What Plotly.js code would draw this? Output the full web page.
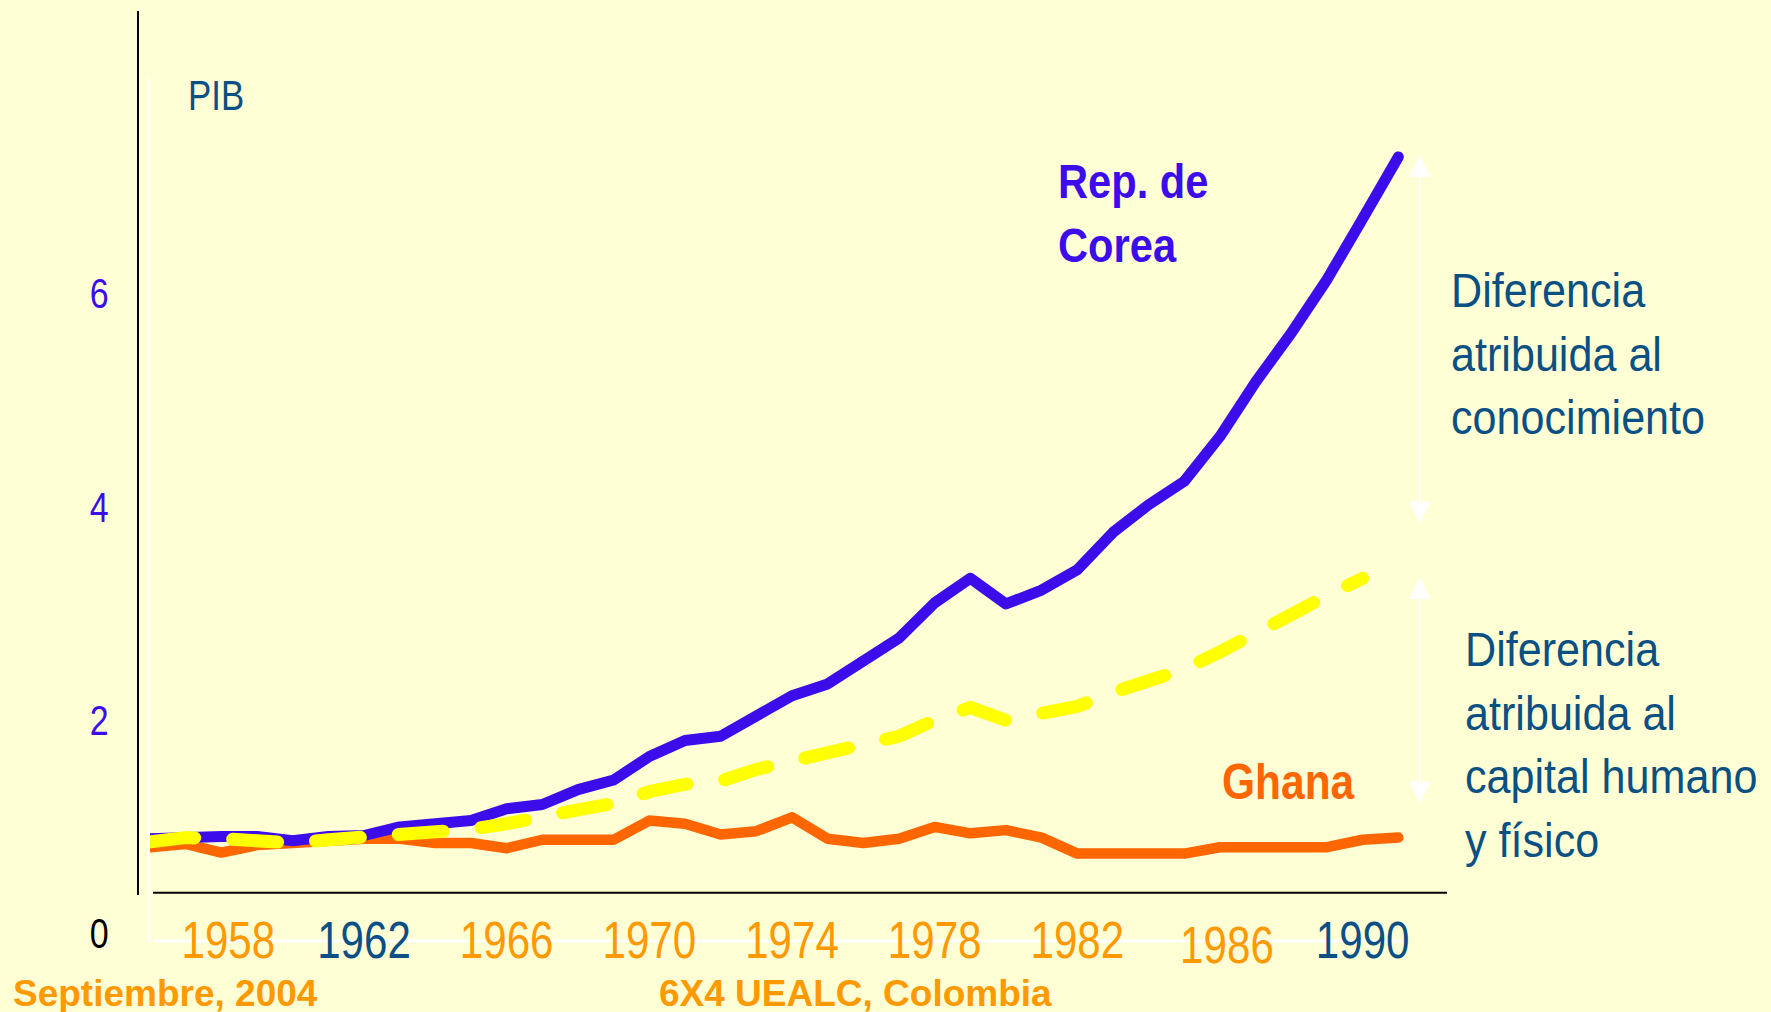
<!DOCTYPE html>
<html>
<head>
<meta charset="utf-8">
<script src="https://cdn.plot.ly/plotly-3.0.1.min.js"></script>
<style>
  html, body { margin: 0; padding: 0; background: #FFFFD5; }
  #chart { width: 1771px; height: 1012px; }
  .js-line { stroke-linecap: round !important; stroke-linejoin: round !important; }
</style>
</head>
<body>
<div id="chart"></div>
<script>
// ---- data ----
const years = [1956,1957,1958,1959,1960,1961,1962,1963,1964,1965,1966,1967,1968,1969,1970,1971,1972,1973,1974,1975,1976,1977,1978,1979,1980,1981,1982,1983,1984,1985,1986,1987,1988,1989,1990,1991];
const korea = [0.89,0.91,0.91,0.91,0.87,0.91,0.92,1.00,1.04,1.06,1.17,1.21,1.35,1.44,1.66,1.81,1.85,2.05,2.23,2.34,2.54,2.77,3.10,3.33,3.09,3.22,3.41,3.76,4.02,4.24,4.66,5.17,5.63,6.13,6.70,7.28];
const ghana = [0.81,0.84,0.76,0.83,0.85,0.88,0.89,0.89,0.85,0.85,0.80,0.88,0.88,0.88,1.06,1.03,0.93,0.96,1.09,0.89,0.85,0.89,1.00,0.94,0.97,0.90,0.75,0.75,0.75,0.75,0.81,0.81,0.81,0.81,0.88,0.90];
const capital = [0.86,0.90,0.89,0.86,0.85,0.88,0.90,0.93,0.94,0.98,1.03,1.08,1.16,1.22,1.33,1.40,1.43,1.54,1.62,1.69,1.75,1.85,2.00,2.12,2.00,2.05,2.13,2.26,2.38,2.48,2.64,2.80,2.99,3.17,3.33,null];

const yTickVals = [0, 2, 4, 6];
const yTickText = ['<span style="color:#000000">0</span>', '2', '4', '6'];
const xTickVals = [1958, 1962, 1966, 1970, 1974, 1978, 1982, 1986, 1990];
const xTickText = ['1958', '<span style="color:#0B4F85">1962</span>', '1966', '1970', '1974', '1978', '1982', '1986', '<span style="color:#0B4F85">1990</span>'];

const NARROW = 'Liberation Sans Narrow, Arial Narrow, Liberation Sans, Arial, sans-serif';
const WIDE = 'Liberation Sans, Arial, sans-serif';
const BLUE = '#3D0CEB';
const ORANGE = '#FF6600';
const TEAL = '#0A5082';
const GOLD = '#FF9900';

const traces = [
  { x: years, y: ghana, type: 'scatter', mode: 'lines', line: { color: ORANGE, width: 10.5 }, hoverinfo: 'skip' },
  { x: years, y: korea, type: 'scatter', mode: 'lines', line: { color: BLUE, width: 11 }, hoverinfo: 'skip' },
  { x: years, y: capital, type: 'scatter', mode: 'lines', line: { color: '#FFFF00', width: 13, dash: '45px,38px' }, hoverinfo: 'skip' }
];

const layout = {
  width: 1771, height: 1012,
  paper_bgcolor: '#FFFFD5', plot_bgcolor: '#FFFFD5',
  margin: { l: 150, r: 362, t: 79, b: 71, pad: 0 },
  showlegend: false,
  hovermode: false,
  xaxis: {
    range: [1956, 1991.3], showgrid: false, zeroline: false, showline: false,
    anchor: 'free', position: 0.0412,
    ticks: '', tickmode: 'array', tickvals: xTickVals, ticktext: xTickText,
    tickfont: { family: NARROW, size: 52, color: GOLD }, fixedrange: true
  },
  yaxis: {
    range: [-0.069, 8.01], showgrid: false, zeroline: false,
    showline: true, linecolor: '#FFFFFF', linewidth: 3, layer: 'below traces',
    ticks: '', tickmode: 'array', tickvals: yTickVals, ticktext: yTickText,
    tickfont: { family: NARROW, size: 42, color: BLUE },
    ticklabelstandoff: 30, fixedrange: true
  },
  shapes: [
    { type: 'line', xref: 'paper', yref: 'paper', layer: 'below', x0: 0.0024, x1: 0.993, y0: 0, y1: 0, line: { color: '#FFFFFF', width: 3 } },
    { type: 'line', xref: 'paper', yref: 'paper', x0: -0.00953, x1: -0.00953, y0: 0.0534, y1: 1.0789, line: { color: '#000000', width: 2 } },
    { type: 'line', xref: 'paper', yref: 'paper', x0: 0.0024, x1: 1.0302, y0: 0.0560, y1: 0.0560, line: { color: '#000000', width: 2 } }
  ],
  annotations: [
    { xref: 'x', yref: 'y', x: 1957.01, y: 7.864, xanchor: 'left', yanchor: 'middle', align: 'left', showarrow: false,
      text: 'PIB', font: { family: NARROW, size: 43, color: TEAL } },
    { xref: 'x', yref: 'y', x: 1981.41, y: 6.752, xanchor: 'left', yanchor: 'middle', align: 'left', showarrow: false,
      text: '<b>Rep. de<br>Corea</b>', font: { family: NARROW, size: 49, color: BLUE } },
    { xref: 'x', yref: 'y', x: 1986.0, y: 1.425, xanchor: 'left', yanchor: 'middle', align: 'left', showarrow: false,
      text: '<b>Ghana</b>', font: { family: NARROW, size: 50, color: ORANGE } },
    { xref: 'paper', yref: 'paper', x: 1.0318, y: 0.6813, xanchor: 'left', yanchor: 'middle', align: 'left', showarrow: false,
      text: 'Diferencia<br>atribuida al<br>conocimiento', font: { family: NARROW, size: 49, color: TEAL } },
    { xref: 'paper', yref: 'paper', x: 1.0429, y: 0.2277, xanchor: 'left', yanchor: 'middle', align: 'left', showarrow: false,
      text: 'Diferencia<br>atribuida al<br>capital humano<br>y físico', font: { family: NARROW, size: 49, color: TEAL } },
    { xref: 'paper', yref: 'paper', x: 1.0087, y: 0.9118, showarrow: true, text: '', axref: 'pixel', ayref: 'pixel', ax: 0, ay: 370,
      arrowcolor: '#FFFFFF', arrowwidth: 2, arrowhead: 2, startarrowhead: 2, arrowsize: 2.2, startarrowsize: 2.2, arrowside: 'end+start' },
    { xref: 'paper', yref: 'paper', x: 1.0087, y: 0.4223, showarrow: true, text: '', axref: 'pixel', ayref: 'pixel', ax: 0, ay: 228,
      arrowcolor: '#FFFFFF', arrowwidth: 2, arrowhead: 2, startarrowhead: 2, arrowsize: 2.2, startarrowsize: 2.2, arrowside: 'end+start' },
    { xref: 'paper', yref: 'paper', x: -0.1104, y: -0.0606, xanchor: 'left', yanchor: 'middle', showarrow: false,
      text: '<b>Septiembre, 2004</b>', font: { family: WIDE, size: 37, color: GOLD } },
    { xref: 'paper', yref: 'paper', x: 0.4027, y: -0.0606, xanchor: 'left', yanchor: 'middle', showarrow: false,
      text: '<b>6X4 UEALC, Colombia</b>', font: { family: WIDE, size: 37, color: GOLD } }
  ]
};

// The chart's lettering is a narrow (Arial Narrow-like) face; compress the glyphs to match.
function squeezeEl(el, k) {
  const L = el.getComputedTextLength();
  if (L > 0) {
    el.setAttribute('textLength', (L * k).toFixed(2));
    el.setAttribute('lengthAdjust', 'spacingAndGlyphs');
  }
}
function squeeze(t, k) {
  const lines = t.querySelectorAll('tspan.line');
  if (lines.length) lines.forEach(l => squeezeEl(l, k)); else squeezeEl(t, k);
}
function nudge(t, dx, dy) {
  t.setAttribute('transform', (t.getAttribute('transform') || '') + ' translate(' + dx + ',' + dy + ')');
}

Plotly.newPlot('chart', traces, layout, { staticPlot: true, displayModeBar: false }).then(gd => {
  gd.querySelectorAll('.xtick text, .ytick text').forEach(t => squeeze(t, 0.81));
  const factors = { '0': 0.81, '1': 0.85, '2': 0.85, '3': 0.88, '4': 0.88 };
  gd.querySelectorAll('g.annotation').forEach(g => {
    const i = g.getAttribute('data-index');
    if (i in factors) g.querySelectorAll('text').forEach(t => squeeze(t, factors[i]));
  });
  gd.querySelectorAll('.xtick text').forEach(t => {
    if (t.textContent === '1958') nudge(t, 7, 0);
    if (t.textContent === '1986') nudge(t, 7, 5);
  });
});
</script>
</body>
</html>
